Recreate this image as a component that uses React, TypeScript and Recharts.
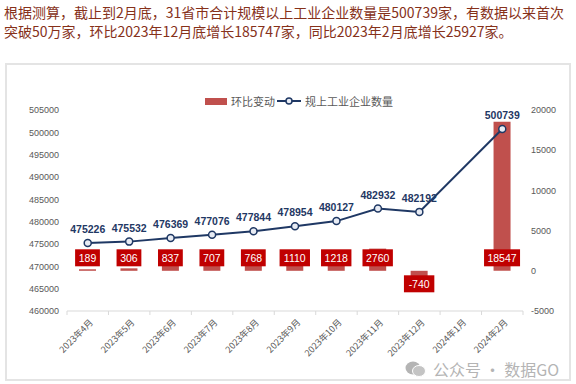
import React from 'react';
import { ComposedChart, Bar, Line, XAxis, YAxis, LabelList } from 'recharts';

const months = ['2023年4月', '2023年5月', '2023年6月', '2023年7月', '2023年8月', '2023年9月', '2023年10月', '2023年11月', '2023年12月', '2024年1月', '2024年2月'];
const enterprises: (number | null)[] = [475226, 475532, 476369, 477076, 477844, 478954, 480127, 482932, 482192, null, 500739];
const changes: (number | null)[] = [189, 306, 837, 707, 768, 1110, 1218, 2760, -740, null, 18547];
const leftTicks = [460000, 465000, 470000, 475000, 480000, 485000, 490000, 495000, 500000, 505000];
const rightTicks = [-5000, 0, 5000, 10000, 15000, 20000];

const headerLine1 = '根据测算，截止到2月底，31省市合计规模以上工业企业数量是500739家，有数据以来首次';
const headerLine2 = '突破50万家，环比2023年12月底增长185747家，同比2023年2月底增长25927家。';

const data = months.map((m, i) => ({ month: m, count: enterprises[i], change: changes[i] }));

const NAVY = '#1F3864';
const BAR = '#C0504D';
const LABEL_BG = '#C00000';
const AXIS_GRAY = '#595959';
const NUM_FONT = '"Liberation Sans", Arial, sans-serif';
const CJK_FONT = '"Noto Sans CJK SC", "Noto Sans", sans-serif';

const XTick = (props: any) => {
  const { x, y, payload, index, visibleTicksCount } = props;
  const off = payload && payload.offset ? payload.offset : 0;
  const axisY = y - 8;
  return (
    <g>
      <line x1={x - off} y1={axisY} x2={x - off} y2={axisY + 4} stroke="#d9d9d9" />
      {index === visibleTicksCount - 1 && (
        <line x1={x + off} y1={axisY} x2={x + off} y2={axisY + 4} stroke="#d9d9d9" />
      )}
      <text
        x={x + 6}
        y={axisY + 12}
        transform={`rotate(-45, ${x + 6}, ${axisY + 12})`}
        textAnchor="end"
        fontSize={9}
        fill={AXIS_GRAY}
        fontFamily={CJK_FONT}
      >
        {payload.value}
      </text>
    </g>
  );
};

const BarLabel = (props: any) => {
  const { x, y, width, height, value } = props;
  if (value === null || value === undefined) return null;
  const top = Math.min(y, y + height);
  const bottom = Math.max(y, y + height);
  const base = value >= 0 ? bottom : top;
  const cy = value >= 0 ? base - 13 : base + 13;
  const txt = String(value);
  const w = txt.length * 5.6 + 8;
  const cx = x + width / 2;
  return (
    <g>
      <rect x={cx - w / 2} y={cy - 8.5} width={w} height={17} fill={LABEL_BG} />
      <text x={cx} y={cy + 4} textAnchor="middle" fontSize={10.5} fill="#ffffff" fontFamily={NUM_FONT}>
        {txt}
      </text>
    </g>
  );
};

const LineLabel = (props: any) => {
  const { x, y, value } = props;
  if (value === null || value === undefined) return null;
  return (
    <text x={x} y={y - 10} textAnchor="middle" fontSize={10.5} fontWeight="bold" fill={NAVY} fontFamily={NUM_FONT}>
      {value}
    </text>
  );
};

const LegendBox = () => (
  <div style={{ position: 'absolute', left: 205, top: 93, display: 'flex', alignItems: 'center', fontFamily: CJK_FONT, fontSize: 11, color: AXIS_GRAY, whiteSpace: 'nowrap' }}>
    <span style={{ display: 'inline-block', width: 22, height: 7, background: BAR, marginRight: 4 }} />
    <span>环比变动</span>
    <svg width={24} height={10} style={{ margin: '0 4px 0 2px' }}>
      <line x1={0} y1={5} x2={24} y2={5} stroke={NAVY} strokeWidth={2} />
      <circle cx={12} cy={5} r={3} fill="#e8ecf4" stroke={NAVY} strokeWidth={1.5} />
    </svg>
    <span>规上工业企业数量</span>
  </div>
);

export default function App() {
  return (
    <div style={{ position: 'absolute', left: 0, top: 0, width: 576, height: 384, background: '#ffffff', overflow: 'hidden' }}>
      <div
        style={{
          position: 'absolute',
          left: 4,
          top: 3,
          width: 576,
          fontFamily: CJK_FONT,
          fontSize: 14,
          lineHeight: '19px',
          color: '#86311a',
          whiteSpace: 'nowrap',
        }}
      >
        <div>{headerLine1}</div>
        <div>{headerLine2}</div>
      </div>
      <div
        style={{
          position: 'absolute',
          left: 5,
          top: 63,
          width: 566,
          height: 318,
          border: '2px solid #e4e4e4',
          boxSizing: 'border-box',
        }}
      />
      <div style={{ position: 'absolute', left: 0, top: 0 }}>
        <ComposedChart width={576} height={384} data={data} margin={{ top: 110, right: 6, bottom: 13, left: 7 }}>
          <XAxis
            dataKey="month"
            xAxisId="x"
            height={60}
            interval={0}
            tickLine={false}
            axisLine={{ stroke: '#d9d9d9' }}
            tick={<XTick />}
          />
          <YAxis
            yAxisId="left"
            orientation="left"
            width={60}
            domain={[460000, 505000]}
            ticks={leftTicks}
            interval={0}
            allowDataOverflow
            axisLine={false}
            tickLine={false}
            tick={{ fontSize: 9, fill: AXIS_GRAY, fontFamily: NUM_FONT }}
          />
          <YAxis
            yAxisId="right"
            orientation="right"
            width={47}
            domain={[-5000, 20000]}
            ticks={rightTicks}
            interval={0}
            allowDataOverflow
            axisLine={false}
            tickLine={false}
            tick={{ fontSize: 9, fill: AXIS_GRAY, fontFamily: NUM_FONT }}
          />
          <Bar dataKey="change" xAxisId="x" yAxisId="right" fill={BAR} barSize={17} isAnimationActive={false}>
            <LabelList dataKey="change" content={<BarLabel />} />
          </Bar>
          <Line
            dataKey="count"
            xAxisId="x"
            yAxisId="left"
            stroke={NAVY}
            strokeWidth={2}
            connectNulls
            dot={{ r: 3.5, fill: '#e8ecf4', stroke: NAVY, strokeWidth: 1.5 }}
            isAnimationActive={false}
          >
            <LabelList dataKey="count" content={<LineLabel />} />
          </Line>
        </ComposedChart>
      </div>
      <LegendBox />
      <div
        style={{
          position: 'absolute',
          left: 405,
          top: 357,
          display: 'flex',
          alignItems: 'center',
          fontFamily: CJK_FONT,
          fontSize: 16,
          color: '#b4b4b4',
          whiteSpace: 'nowrap',
        }}
      >
        <svg width={22} height={18} style={{ marginRight: 6 }}>
          <ellipse cx={8} cy={8} rx={7.5} ry={6.5} fill="#b4b4b4" />
          <ellipse cx={14} cy={11} rx={6.5} ry={5.5} fill="#c4c4c4" stroke="#ffffff" strokeWidth={1} />
        </svg>
        <span>公众号 · 数据GO</span>
      </div>
    </div>
  );
}
